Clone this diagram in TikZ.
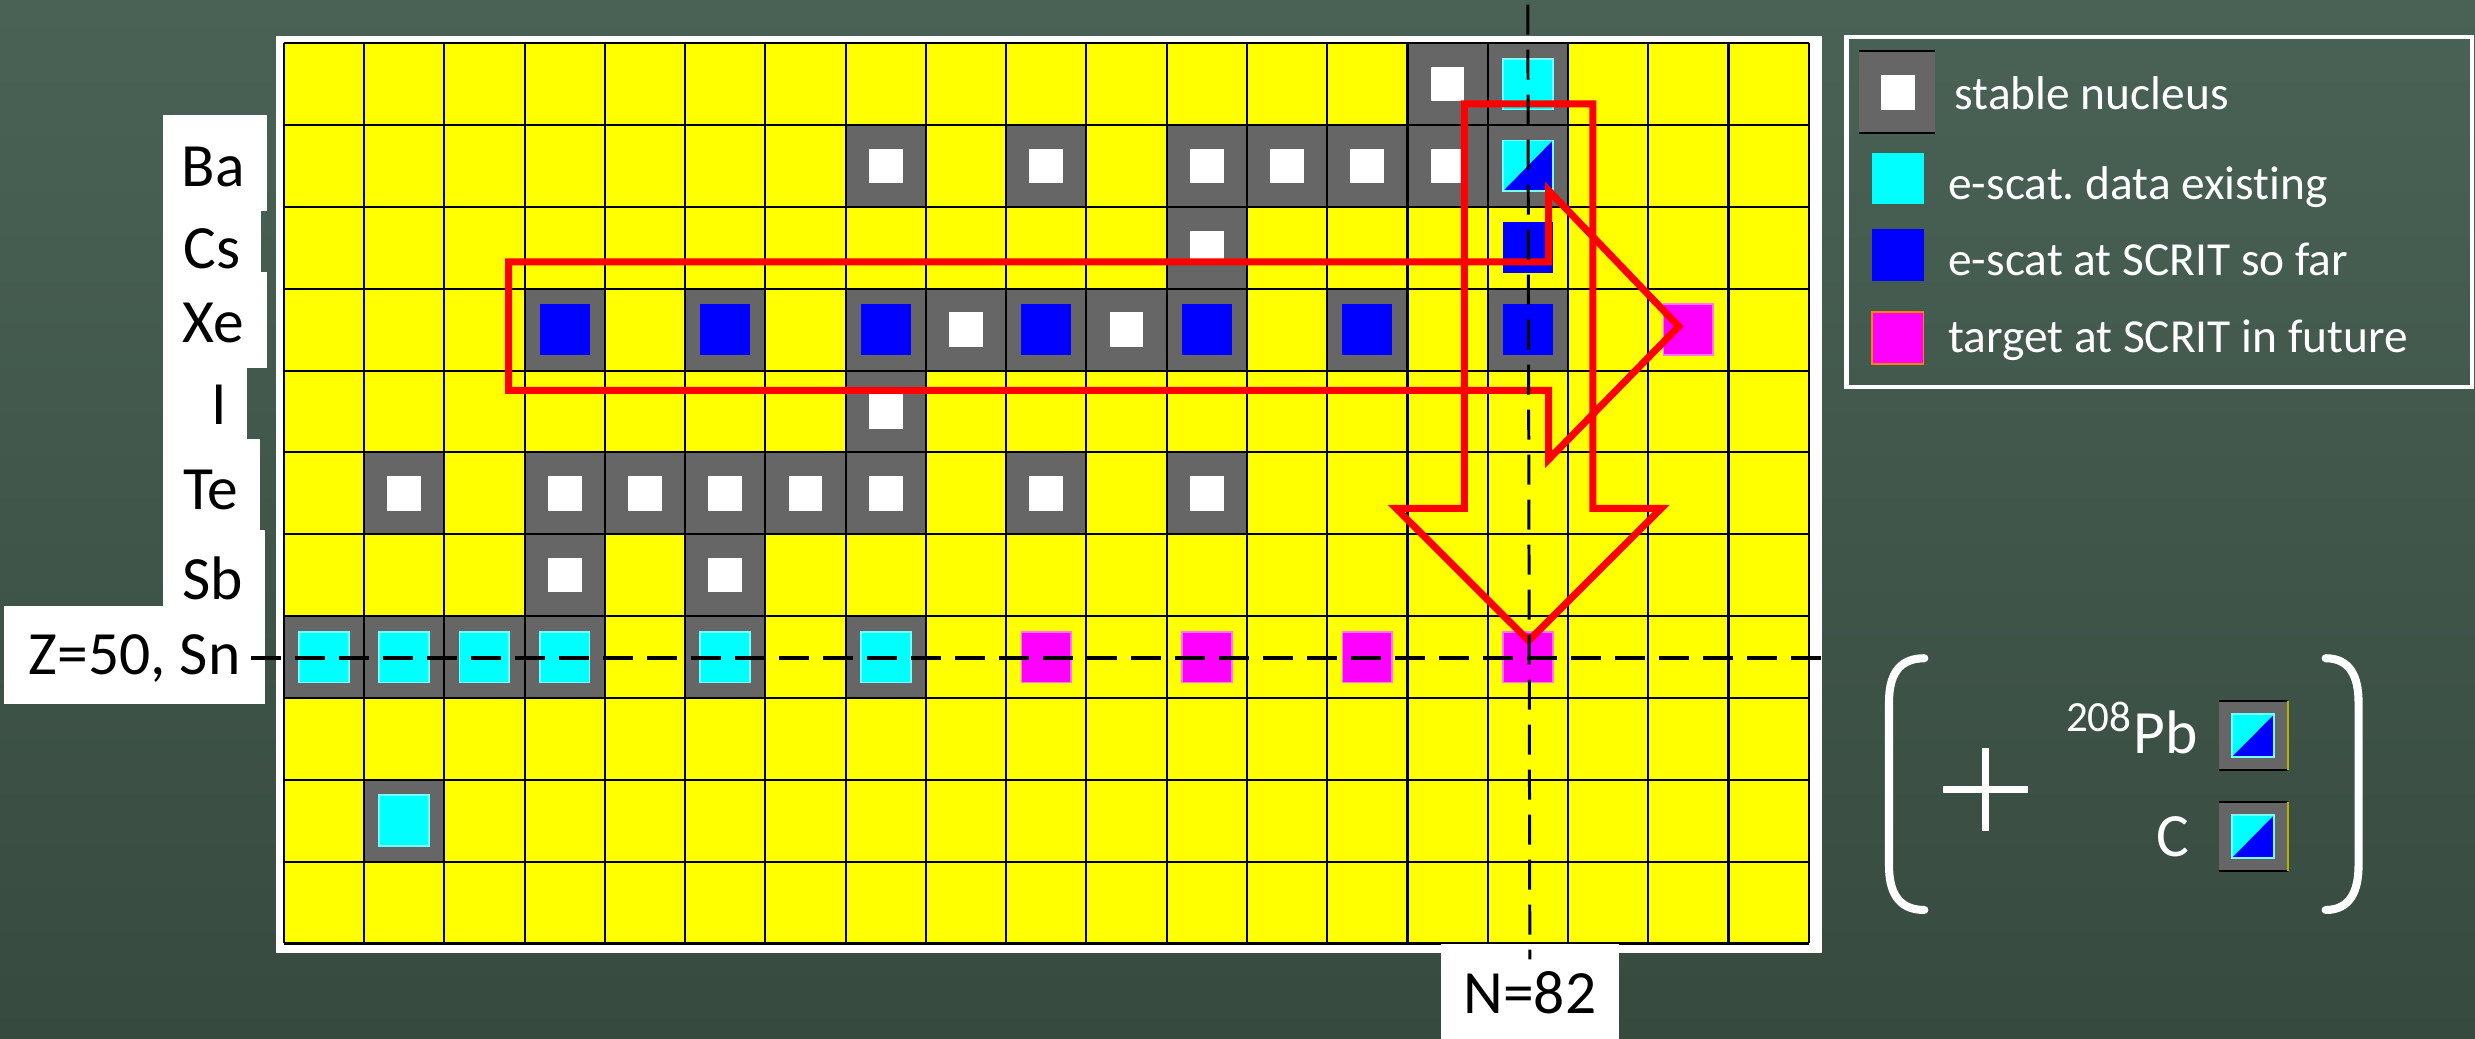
\documentclass[tikz,border=0pt]{standalone}
\usepackage{fontspec}
\setmainfont{Carlito}[Ligatures=NoCommon]
\usetikzlibrary{positioning}
\frenchspacing

\definecolor{boardtop}{HTML}{4A6256}
\definecolor{boardbot}{HTML}{374A40}
\definecolor{nucgray}{HTML}{666666}
\definecolor{chartyellow}{HTML}{FFFF00}
\definecolor{escat}{HTML}{00FFFF}
\definecolor{scrit}{HTML}{0000FF}
\definecolor{future}{HTML}{FF00FF}
\definecolor{arrowred}{HTML}{FF0000}

\begin{document}
\begin{tikzpicture}[
  x=0.8026cm, y=0.8184cm,
  cellgrid/.style={draw=black, line width=0.6pt},
  nucstable/.style={fill=nucgray},
  lab/.style={font=\fontsize{17.5}{21}\selectfont, inner sep=0pt,
              text height=0.39cm, text depth=0pt},
  legtext/.style={text=white, font=\fontsize{13.5}{16}\selectfont,
                  anchor=base west, inner sep=0pt},
  bigarrow/.style={draw=arrowred, line width=2pt, line join=miter},
  zline/.style={dash pattern=on 0.3cm off 0.14cm, line width=1.1pt},
  nline/.style={dash pattern=on 0.3cm off 0.15cm, line width=0.85pt},
  chalk/.style={draw=white, line width=2.3pt, line cap=round}
]
% board
\useasboundingbox (-3.536,-1.167) rectangle (27.301,11.528);
\shade[top color=boardtop, bottom color=boardbot] (-3.536,-1.167) rectangle (27.301,11.528);

% chart
\fill[white] (-0.1,-0.12) rectangle (19.16,11.09);
\fill[chartyellow] (0,0) rectangle (19,11);
\foreach \c/\r in {14/10,15/10, 7/9,9/9,11/9,12/9,13/9,14/9,15/9, 11/8,
                   3/7,5/7,7/7,8/7,9/7,10/7,11/7,13/7,15/7, 7/6,
                   1/5,3/5,4/5,5/5,6/5,7/5,9/5,11/5, 3/4,5/4,
                   0/3,1/3,2/3,3/3,5/3,7/3, 1/1}
  \fill[nucstable] (\c,\r) rectangle ++(1,1);
\foreach \c/\r in {14/10, 7/9,9/9,11/9,12/9,13/9,14/9, 11/8, 8/7,10/7, 7/6,
                   1/5,3/5,4/5,5/5,6/5,7/5,9/5,11/5, 3/4,5/4}
  \fill[white] (\c+0.29,\r+0.29) rectangle (\c+0.71,\r+0.71);
\foreach \c/\r in {15/10, 0/3,1/3,2/3,3/3,5/3,7/3, 1/1}
  \filldraw[fill=escat, draw=escat!55!white, line width=0.5pt] (\c+0.19,\r+0.19) rectangle (\c+0.81,\r+0.81);
\foreach \c/\r in {15/8, 3/7,5/7,7/7,9/7,11/7,13/7,15/7}
  \fill[scrit] (\c+0.19,\r+0.19) rectangle (\c+0.81,\r+0.81);
\foreach \c/\r in {17/7, 9/3,11/3,13/3,15/3}
  \filldraw[fill=future, draw=future!55!white, line width=0.5pt] (\c+0.19,\r+0.19) rectangle (\c+0.81,\r+0.81);

% half cyan / half blue
\fill[nucgray] (24.11,2.12) rectangle (24.97,2.963);
\fill[nucgray] (24.11,0.89) rectangle (24.97,1.733);
\foreach \xa/\ya/\xb/\yb in {15.19/9.19/15.81/9.81, 24.27/2.275/24.80/2.80, 24.27/1.041/24.80/1.570} {
  \fill[escat] (\xa,\ya) rectangle (\xb,\yb);
  \fill[scrit] (\xa,\ya) -- (\xb,\yb) -- (\xb,\ya) -- cycle;
  \draw[escat!55!white, line width=0.5pt] (\xa,\ya) rectangle (\xb,\yb);
}
\draw[cellgrid] (24.11,2.963) -- (24.97,2.963) (24.11,2.12) -- (24.97,2.12)
                (24.11,1.733) -- (24.97,1.733) (24.11,0.89) -- (24.97,0.89);
\draw[chartyellow!70!black, line width=0.5pt] (24.97,2.12) -- (24.97,2.963) (24.97,0.89) -- (24.97,1.733);

\foreach \c in {0,...,19}
  \draw[cellgrid] (\c,0) -- (\c,11);
\foreach \r in {0,...,11}
  \draw[cellgrid] (0,\r) -- (19,\r);

% element labels
\foreach \xr/\yb/\yt in {-0.21/8.95/10.12, -0.28/8.2/8.95, -0.21/7.03/8.2,
                         -0.46/6.16/7.03, -0.30/5.05/6.16, -0.23/4.12/5.05}
  \fill[white] (-1.51,\yb) rectangle (\xr,\yt);
\fill[white] (-3.49,2.93) rectangle (-0.23,4.12);
\foreach \nm/\txt/\xc/\yc in {ba/Ba/-0.88/9.49, cs/Cs/-0.89/8.48, xe/Xe/-0.88/7.58,
                              io/I/-0.81/6.58, te/Te/-0.91/5.54, sb/Sb/-0.89/4.44}
  \node[lab] (\nm) at (\xc,\yc) {\txt};
\node[lab, inner xsep=0.1cm, anchor=east] (sn) at (-0.408,3.52) {Z=50, Sn};
\node[lab, fill=white, minimum width=1.774cm, minimum height=1.0cm, anchor=north] (n82) at (15.525,0) {N=82};

% red block arrows
\draw[bigarrow] (2.8,6.758) -- (15.76,6.758) -- (15.76,5.915) -- (17.38,7.54)
  -- (15.76,9.199) -- (15.76,8.327) -- (2.8,8.327) -- cycle;
\draw[bigarrow] (14.71,10.26) -- (14.71,5.315) -- (13.86,5.315) -- (15.51,3.70)
  -- (17.16,5.315) -- (16.31,5.315) -- (16.31,10.26) -- cycle;

% magic numbers
\coordinate (ntop) at (15.5,11.47);
\coordinate (zend) at (19.16,3.49);
\draw[nline] (ntop) -- ([yshift=-0.16cm]n82.north);
\draw[zline] (sn.east |- zend) -- (zend);

% legend
\draw[white, line width=1.2pt] (19.47,6.80) rectangle (27.26,11.08);
\fill[nucgray] (19.62,9.90) rectangle (20.57,10.90);
\draw[cellgrid] (19.62,10.90) -- (20.57,10.90) (19.62,9.90) -- (20.57,9.90);
\fill[white] (19.895,10.185) rectangle (20.326,10.612);
\fill[escat] (19.79,9.04) rectangle (20.43,9.66);
\fill[scrit] (19.79,8.10) rectangle (20.43,8.73);
\filldraw[fill=future, draw=orange, line width=0.5pt] (19.79,7.08) rectangle (20.43,7.72);
\node[legtext] (leg1) at (20.81,10.185) {stable nucleus};
\node[legtext] (leg2) at (20.73,9.085) {e-scat. data existing};
\node[legtext] (leg3) at (20.73,8.156) {e-scat at SCRIT so far};
\node[legtext] (leg4) at (20.73,7.219) {target at SCRIT in future};

% extra targets
\draw[chalk] (20.44,3.485) .. controls (20.1,3.485) and (20.0,3.25) .. (20.0,2.95)
  -- (20.0,0.95) .. controls (20.0,0.65) and (20.1,0.409) .. (20.44,0.409);
\draw[chalk] (25.44,3.485) .. controls (25.75,3.485) and (25.85,3.25) .. (25.85,2.95)
  -- (25.85,0.95) .. controls (25.85,0.65) and (25.75,0.409) .. (25.44,0.409);
\draw[draw=white, line width=2pt] (20.67,1.879) -- (21.73,1.879) (21.20,1.374) -- (21.20,2.384);
\node[lab, text=white, anchor=base east] (pb) at (23.85,2.324) {\textsuperscript{208}Pb};
\node[lab, text=white, anchor=base east] (cc) at (23.75,1.061) {C};
\end{tikzpicture}
\end{document}
